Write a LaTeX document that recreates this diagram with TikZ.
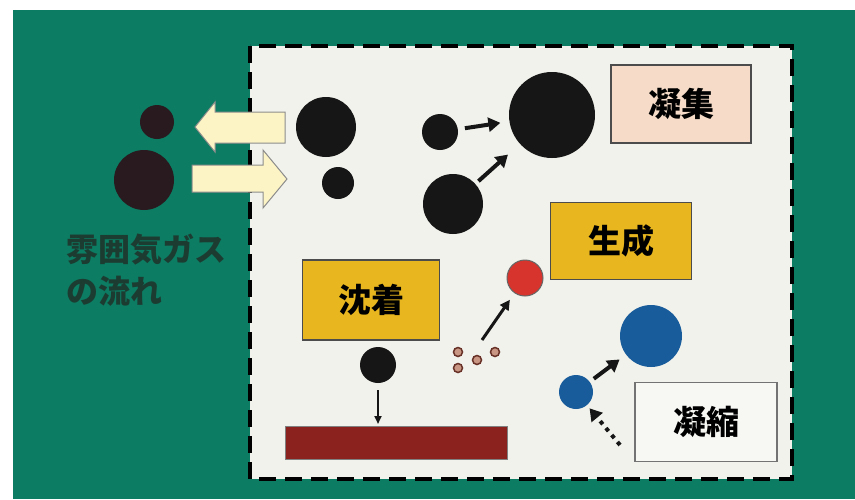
\documentclass[tikz,border=0pt]{standalone}
\usepackage{fontspec}
\newfontfamily\jp{Noto Sans CJK JP}
\usetikzlibrary{arrows.meta}
\definecolor{bggreen}{RGB}{12,124,98}
\definecolor{panel}{RGB}{242,242,236}
\definecolor{arrowfill}{RGB}{252,244,196}
\definecolor{gold}{RGB}{232,182,30}
\definecolor{peach}{RGB}{246,220,200}
\definecolor{bluep}{RGB}{24,92,156}
\definecolor{redp}{RGB}{214,52,44}
\definecolor{brick}{RGB}{140,34,30}
\definecolor{soot}{RGB}{22,22,22}
\definecolor{outsoot}{RGB}{40,26,30}
\definecolor{gastext}{RGB}{28,60,50}
\definecolor{dotfill}{RGB}{200,150,130}
\definecolor{dotline}{RGB}{105,50,40}
\begin{document}
\begin{tikzpicture}[x=1pt,y=-1pt,
		ball/.style={circle,inner sep=0pt,draw=none},
		namebox/.style={draw=black!70,line width=1.5pt,inner sep=0pt,minimum width=140pt,minimum height=78pt,font=\jp\bfseries\fontsize{33}{36}\selectfont},
		fatarrow/.style={line width=4pt,draw=soot,-{Triangle[length=12pt,width=14pt]}},
		gasarrow/.style={fill=arrowfill,draw=black!45,line width=1pt,line join=miter}]
	\useasboundingbox (0,0) rectangle (855,499);
	\fill[white] (0,0) rectangle (855,499);
	\fill[bggreen] (13,10) rectangle (855,499);
	\fill[panel] (250,46) rectangle (792,479);
	\draw[line width=4pt,dash pattern=on 17pt off 9pt] (250,46) rectangle (792,479);
	\foreach \n/\x/\y/\r/\c in {g1/157/122/17/outsoot,g2/144/180/30/outsoot,b1/326/127/30/soot,b2/338/183/16/soot,b3/440/132/18/soot,b4/453/204/30/soot,b5/552/115/43/soot,b6/378/365/18/soot,bs/576/392/17/bluep,bb/651/336/31/bluep}
		\node[ball,fill=\c,minimum size=2*\r*1pt] (\n) at (\x,\y) {};
	\node[ball,fill=redp,draw=black!60,line width=1pt,minimum size=36pt] (red) at (525,278) {};
	\foreach \n/\x/\y in {d1/458/352,d2/495/352,d3/477/360,d4/458/368}
		\node[ball,fill=dotfill,draw=dotline,line width=1.5pt,minimum size=9pt] (\n) at (\x,\y) {};
	\draw[gasarrow] (285,112)--(215,112)--(215,102)--(195,127)--(215,152)--(215,143)--(285,143)--cycle;
	\draw[gasarrow] (192,165)--(263,165)--(263,150)--(287,179)--(263,208)--(263,192)--(192,192)--cycle;
	\node[anchor=base west,inner sep=0pt,text=gastext,font=\jp\bfseries\fontsize{32}{40}\selectfont] (flow1) at (66,261) {雰囲気ガス};
	\node[anchor=base west,inner sep=0pt,text=gastext,font=\jp\bfseries\fontsize{32}{40}\selectfont] (flow2) at (66,303) {の流れ};
	\node[namebox,fill=peach] (agg) at (681,104) {凝集};
	\node[namebox,fill=gold,minimum width=141pt,minimum height=77pt] (gen) at (621,241) {生成};
	\node[namebox,fill=gold,minimum width=137pt,minimum height=80pt] (dep) at (371,300) {沈着};
	\node[namebox,fill=panel!60!white,draw=black!55,minimum width=142pt,minimum height=79pt] (cond) at (706,422) {凝縮};
	\node[fill=brick,draw=black!50,line width=1pt,inner sep=0pt,minimum width=222pt,minimum height=33pt] (sub) at (396,443) {};
	\path (482,340) coordinate (rtail) (620,445) coordinate (ctail);
	\draw[fatarrow,shorten <=7pt,shorten >=9pt] (b3) -- (b5);
	\draw[fatarrow,shorten <=4pt,shorten >=16pt] (b4) -- (b5);
	\draw[line width=3pt,draw=soot,-{Triangle[length=10pt,width=10pt]},shorten >=8pt] (rtail) -- (red);
	\draw[line width=2pt,draw=soot,-{Triangle[length=8pt,width=7pt]},shorten <=7pt,shorten >=2pt] (b6.south) -- (b6.south |- sub.north);
	\draw[fatarrow,shorten <=5pt,shorten >=8pt] (bs) -- (bb);
	\draw[line width=4pt,draw=soot,dash pattern=on 4pt off 5pt,-{Triangle[length=12pt,width=14pt]},shorten >=4pt] (ctail) -- (bs);
\end{tikzpicture}
\end{document}
